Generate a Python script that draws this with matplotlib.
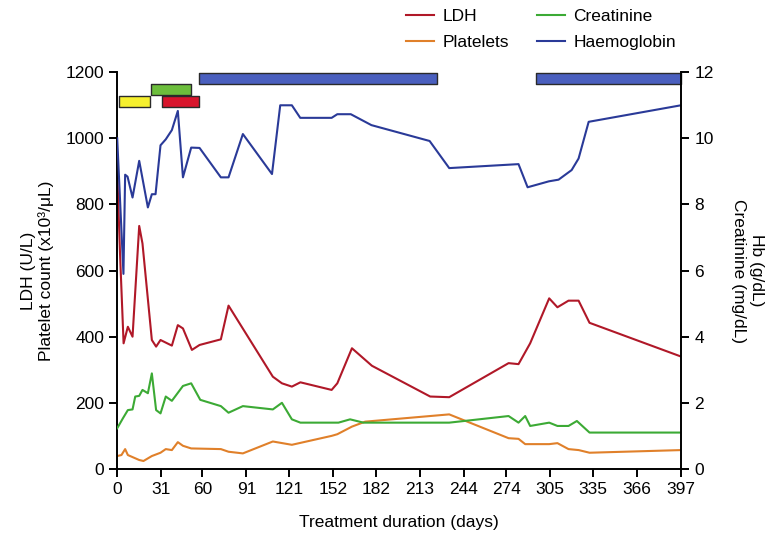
import matplotlib
matplotlib.use("Agg")
import matplotlib.pyplot as plt
from matplotlib.lines import Line2D

plt.rcParams['font.family'] = ['Liberation Sans', 'DejaVu Sans']

# ---------------- data ----------------
ldh_days = [0, 2, 4.5, 7.5, 10.8, 15.5, 17.8, 24.4, 27.4, 30.5, 38.5, 42.7, 46.3, 52.6, 58, 73, 78.4,
            109.6, 116, 123, 129, 151, 155, 165.3, 179.4, 220.4, 233.8, 275.6, 282.6, 290.8, 304.2,
            310, 317.8, 324.9, 332.6, 397]
ldh_vals = [900, 650, 380, 430, 400, 735, 682, 390, 370, 390, 373, 435, 425, 360, 375, 392, 494,
            279, 259, 249, 262, 239, 259, 365, 312, 219, 217, 320, 317, 380, 516,
            489, 509, 509, 442, 340]

plt_days = [0, 3, 5.6, 7.5, 15.5, 18.5, 24.4, 30.5, 34.2, 38.5, 42.7, 46.3, 52.1, 73, 78.4, 88.5,
            109.6, 123, 151, 155, 165.3, 174.6, 233.8, 275.6, 282.6, 287.3, 304.2, 310, 317.8,
            325, 332.6, 397]
plt_vals = [39, 42, 60, 42, 27, 24, 39, 49, 60, 57, 81, 70, 62, 60, 52, 47,
            83, 73, 100, 105, 128, 143, 165, 93, 91, 75, 75, 78, 60,
            57, 49, 57]

crea_days = [0, 4, 7.5, 10.8, 12.7, 15.5, 17.8, 21.6, 24.4, 27.4, 30.5, 34.2, 38.5, 46.3, 52.1,
             58.5, 73, 78.4, 88.5, 109.6, 116, 123, 129, 155.8, 164, 173.4, 233.8, 275.6, 282.6,
             287.3, 290.8, 304.2, 310, 317.8, 323.7, 332.6, 397]
crea_vals = [1.23, 1.53, 1.78, 1.80, 2.19, 2.21, 2.39, 2.29, 2.89, 1.78, 1.68, 2.19, 2.06, 2.51, 2.59,
             2.09, 1.90, 1.70, 1.90, 1.80, 2.00, 1.50, 1.40, 1.40, 1.50, 1.40, 1.40, 1.60, 1.40,
             1.60, 1.30, 1.40, 1.30, 1.30, 1.45, 1.10, 1.10]

hb_days = [0, 4.4, 5.6, 7.3, 10.8, 15.5, 21.6, 24.4, 27, 30.5, 34.2, 38.5, 42.7, 46.3, 52.1, 58,
           73, 78.4, 88.5, 109, 114.8, 123, 128.9, 151, 155, 164.5, 179, 220, 233.8, 282.6,
           289, 304, 310.8, 320, 324.9, 332, 397]
hb_vals = [10.0, 5.9, 8.9, 8.84, 8.21, 9.32, 7.91, 8.31, 8.31, 9.79, 9.97, 10.25, 10.83, 8.82, 9.72, 9.71,
           8.82, 8.82, 10.13, 8.92, 11.0, 11.0, 10.62, 10.62, 10.73, 10.73, 10.40, 9.92, 9.10, 9.22,
           8.52, 8.70, 8.75, 9.04, 9.39, 10.5, 11.0]

x_ticks = [0, 31, 60, 91, 121, 152, 182, 213, 244, 274, 305, 335, 366, 397]
left_ticks = [0, 200, 400, 600, 800, 1000, 1200]
right_ticks = [0, 2, 4, 6, 8, 10, 12]

# treatment periods (start day, end day)
period_yellow = [(1.4, 23.2)]
period_green = [(23.7, 51.8)]
period_red = [(31.5, 57.7)]
period_blue = [(57.3, 225.5), (294.9, 397)]

# ---------------- styles ----------------
c_ldh = '#B01828'
c_plt = '#E0802A'
c_crea = '#3CAA35'
c_hb = '#2A3A98'

fs = 12.5
fig = plt.figure(figsize=(7.66, 5.39), dpi=100)
ax = fig.add_axes([0.153, 0.130, 0.736, 0.736])
ax2 = ax.twinx()

ax.plot(ldh_days, ldh_vals, color=c_ldh, lw=1.5)
ax.plot(plt_days, plt_vals, color=c_plt, lw=1.5)
ax2.plot(crea_days, crea_vals, color=c_crea, lw=1.5)
ax2.plot(hb_days, hb_vals, color=c_hb, lw=1.5)

ax.set_xlim(0, 397)
ax.set_ylim(0, 1200)
ax2.set_ylim(0, 12)

# treatment bars
def bars(periods, y0, h, color):
    ax.broken_barh([(s, e - s) for s, e in periods], (y0, h), facecolors=color,
                   edgecolors='#2a2a2a', linewidth=1.0, clip_on=False, zorder=5)

bars(period_blue, 1164, 34, '#4A5FBE')
bars(period_green, 1131, 33, '#6CBE3C')
bars(period_yellow, 1095, 33, '#F6F02E')
bars(period_red, 1095, 33, '#D8152C')

for a in (ax, ax2):
    a.spines['top'].set_visible(False)
    for s in a.spines.values():
        s.set_linewidth(1.4)
    a.tick_params(width=1.4, length=6, labelsize=fs, direction='out')
ax.spines['right'].set_visible(False)
ax2.spines['left'].set_visible(False)
ax2.spines['bottom'].set_visible(False)

ax.set_xticks(x_ticks)
ax.set_yticks(left_ticks)
ax2.set_yticks(right_ticks)

ax.set_xlabel('Treatment duration (days)', fontsize=fs, labelpad=13)
ax.set_ylabel('LDH (U/L)\nPlatelet count (x10³/μL)', fontsize=fs, labelpad=8, linespacing=1.2)
ax2.set_ylabel('Hb (g/dL)\nCreatinine (mg/dL)', fontsize=fs, rotation=270, labelpad=36, linespacing=1.2)

handles = [Line2D([], [], color=c_ldh, lw=1.5), Line2D([], [], color=c_plt, lw=1.5),
           Line2D([], [], color=c_crea, lw=1.5), Line2D([], [], color=c_hb, lw=1.5)]
labels = ['LDH', 'Platelets', 'Creatinine', 'Haemoglobin']
fig.legend(handles, labels, ncol=2, loc='upper left', bbox_to_anchor=(0.51, 1.012),
           frameon=False, fontsize=fs, handlelength=1.6, columnspacing=1.6,
           labelspacing=0.6, handletextpad=0.5)

fig.savefig('out.png', dpi=100)
